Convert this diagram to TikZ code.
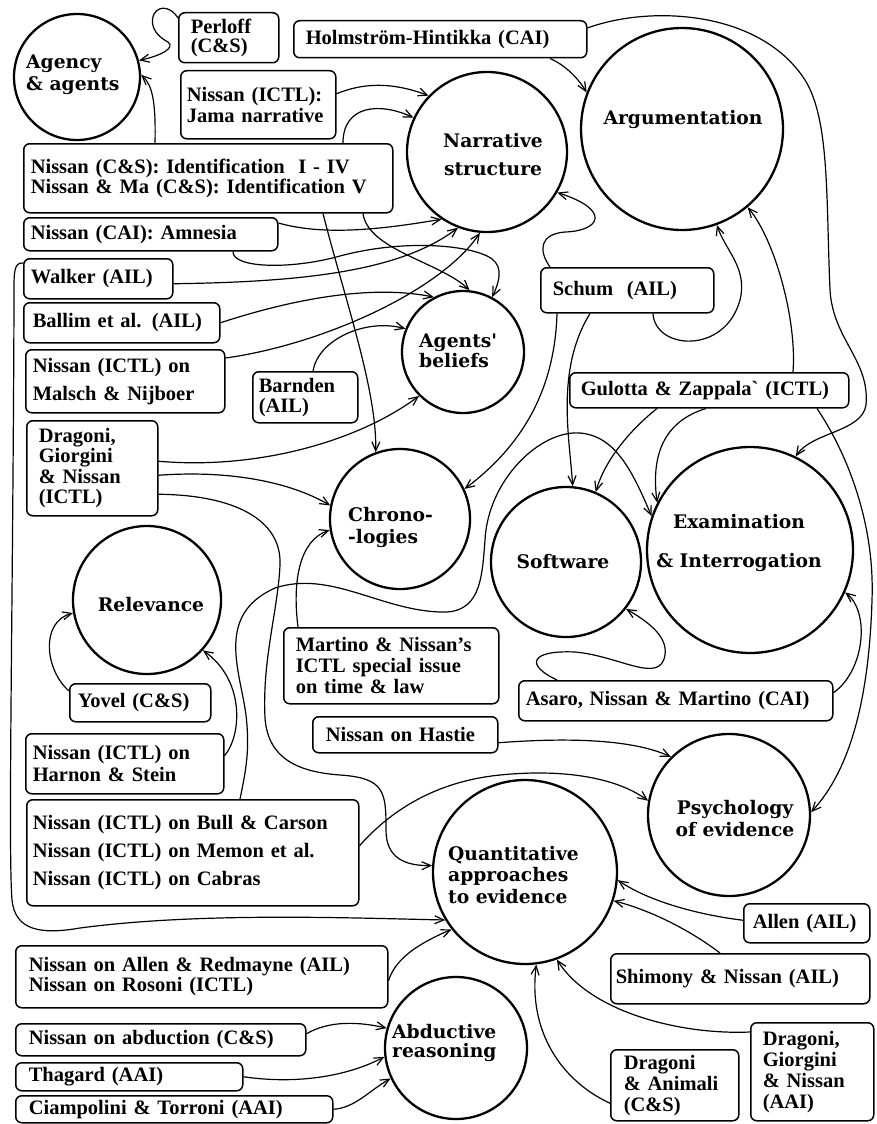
\documentclass[tikz,border=0pt]{standalone}
\usepackage{fontspec}
\newfontfamily\palfont{Liberation Serif}
\newfontfamily\cfont{DejaVu Serif}
\usetikzlibrary{shapes.geometric,arrows.meta,calc}
\tikzset{
  box/.style={draw, line width=1.5pt, rounded corners=6pt, anchor=north west, align=left, inner ysep=0pt, font=\palfont\bfseries\fontsize{20.5}{20}\selectfont},
  lsk/.style={font=\palfont\bfseries\fontsize{20.5}{#1}\selectfont},
  circ/.style={draw, circle, line width=2.3pt, inner sep=0pt},
  ctext/.style={inner sep=0pt, font=\cfont\bfseries\fontsize{18.7}{22}\selectfont},
  clsk/.style={font=\cfont\bfseries\fontsize{18.7}{#1}\selectfont},
  arr/.style={draw, line width=1.2pt, -{Straight Barb[length=9pt,width=8pt]}},
}
\begin{document}
\begin{tikzpicture}[x=1pt,y=-1pt]
\fill[white] (0,0) rectangle (877,1124);
\useasboundingbox (0,0) rectangle (877,1124);

% ---------- topic circles ----------
\node[circ, minimum size=126pt] (agency) at (77,77) {};
\node[ctext, clsk=22, anchor=west, align=left] (agency-t) at (26,75) {Agency\\\& agents};
\node[circ, minimum size=160pt] (narr) at (487,152) {};
\node[ctext, clsk=28, align=center] (narr-t) at (493,155) {Narrative\\structure};
\node[circ, minimum size=202pt] (argu) at (682,129) {};
\node[ctext] (argu-t) at (683,119) {Argumentation};
\node[circ, minimum size=122pt] (beliefs) at (463,352) {};
\node[ctext, clsk=20, anchor=west, align=left] (beliefs-t) at (419,351) {Agents'\\beliefs};
\node[circ, minimum size=140pt] (chrono) at (400,519) {};
\node[ctext, clsk=22, anchor=west, align=left] (chrono-t) at (348,527) {Chrono-\\-logies};
\node[circ, minimum size=150pt] (software) at (566,562) {};
\node[ctext] (software-t) at (563,562) {Software};
\node[circ, minimum size=206pt] (exam) at (750,550) {};
\node[ctext, clsk=39, align=center] (exam-t) at (739,543) {Examination\\\& Interrogation};
\node[circ, minimum size=148pt] (relev) at (147,600) {};
\node[ctext] (relev-t) at (151,605) {Relevance};
\node[circ, minimum size=162pt] (psych) at (729,815) {};
\node[ctext, clsk=22, align=center] (psych-t) at (735,819) {Psychology\\of evidence};
\node[circ, minimum size=184pt] (quant) at (525,872) {};
\node[ctext, clsk=21.5, anchor=west, align=left] (quant-t) at (448,875) {Quantitative\\approaches\\to evidence};
\node[circ, minimum size=142pt] (abd) at (456,1048) {};
\node[ctext, clsk=19, anchor=west, align=left] (abd-t) at (392,1043) {Abductive\\reasoning};

% ---------- source boxes ----------
\node[box, lsk=19, inner xsep=12pt, text width=76pt, minimum height=50pt] (perloff) at (178,12) {Perloff\\(C\&S)};
\node[box, inner xsep=12pt, text width=269pt, minimum height=37pt] (holm) at (293,20) {Holmström-Hintikka (CAI)};
\node[box, lsk=21, inner xsep=6pt, text width=143pt, minimum height=68pt] (jama) at (180,70) {Nissan (ICTL):\\Jama narrative};
\node[box, lsk=19.5, inner xsep=7pt, text width=355pt, minimum height=69pt] (idbox) at (23,143) {Nissan (C\&S): Identification\ \ I - IV\\Nissan \& Ma (C\&S): Identification V};
\node[box, inner xsep=7pt, text width=240pt, minimum height=33pt] (amnesia) at (23,217) {Nissan (CAI): Amnesia};
\node[box, inner xsep=7pt, text width=135pt, minimum height=40pt] (walker) at (23,258) {Walker (AIL)};
\node[box, inner xsep=9pt, text width=178pt, minimum height=40pt] (ballim) at (23,302) {Ballim et al. (AIL)};
\node[box, lsk=28, inner xsep=7pt, text width=185pt, minimum height=63pt] (malsch) at (25,349) {Nissan (ICTL) on\\Malsch \& Nijboer};
\node[box, lsk=20, inner xsep=6pt, text width=93pt, minimum height=51pt] (barnden) at (252,371) {Barnden\\(AIL)};
\node[box, lsk=20.5, inner xsep=12pt, text width=107pt, minimum height=95pt] (drag1) at (26,420) {Dragoni,\\Giorgini\\\& Nissan\\(ICTL)};
\node[box, inner xsep=12pt, text width=149pt, minimum height=45pt] (schum) at (540,267) {Schum\ \ (AIL)};
\node[box, inner xsep=11pt, text width=257pt, minimum height=35pt] (gulotta) at (569,372) {\mbox{Gulotta \& Zappala\textasciigrave\ (ICTL)}};
\node[box, lsk=21, inner xsep=12pt, text width=191pt, minimum height=76pt] (martino) at (283,627) {Martino \& Nissan’s\\ICTL special issue\\on time \& law};
\node[box, inner xsep=7pt, text width=300pt, minimum height=40pt] (asaro) at (518,680) {Asaro, Nissan \& Martino (CAI)};
\node[box, inner xsep=8pt, text width=125pt, minimum height=38pt] (yovel) at (69,683) {Yovel (C\&S)};
\node[box, inner xsep=13pt, text width=159pt, minimum height=36pt] (hastie) at (312,716) {Nissan on Hastie};
\node[box, lsk=22, inner xsep=7pt, text width=184pt, minimum height=60pt] (harnon) at (25,733) {Nissan (ICTL) on\\Harnon \& Stein};
\node[box, lsk=28, inner xsep=6pt, text width=320pt, minimum height=106pt] (bull) at (26,799) {Nissan (ICTL) on Bull \& Carson\\Nissan (ICTL) on Memon et al.\\Nissan (ICTL) on Cabras};
\node[box, lsk=20, inner xsep=13pt, text width=346pt, minimum height=62pt] (allenred) at (15,945) {Nissan on Allen \& Redmayne (AIL)\\Nissan on Rosoni (ICTL)};
\node[box, inner xsep=13pt, text width=264pt, minimum height=32pt] (abduc) at (15,1023) {Nissan on abduction (C\&S)};
\node[box, inner xsep=13pt, text width=201pt, minimum height=28pt] (thagard) at (15,1062) {Thagard (AAI)};
\node[box, inner xsep=13pt, text width=291pt, minimum height=27pt] (ciamp) at (15,1095) {Ciampolini \& Torroni (AAI)};
\node[box, inner xsep=9pt, text width=108pt, minimum height=39pt] (allen) at (743,903) {Allen (AIL)};
\node[box, inner xsep=5pt, text width=249pt, minimum height=50pt] (shimony) at (610,953) {Shimony \& Nissan (AIL)};
\node[box, lsk=21, inner xsep=13pt, text width=102pt, minimum height=71pt] (animali) at (610,1049) {Dragoni\\\& Animali\\(C\&S)};
\node[box, lsk=21, inner xsep=12pt, text width=99pt, minimum height=98pt] (drag2) at (750,1022) {Dragoni,\\Giorgini\\\& Nissan\\(AAI)};

% ---------- connectors ----------
\draw[arr] ($(perloff.north west)+(0,6)$) .. controls (172,8) and (160,4) .. (154,14) .. controls (148,28) and (160,38) .. (168,42) .. controls (176,48) and (160,56) .. (agency.15);
\draw[arr] ($(idbox.north west)+(132,0)$) .. controls (156,100) and (152,85) .. (agency.2);
\draw[arr] ($(jama.east)+(0,-11)$) .. controls (370,80) and (400,85) .. (narr.136);
\draw[arr] ($(idbox.north west)+(320,0)$) .. controls (343,105) and (380,102) .. (narr.155);
\draw[arr] ($(amnesia.north east)+(0,6)$) .. controls (330,238) and (400,226) .. (narr.236);
\draw[arr] ($(amnesia.south west)+(210,0)$) .. controls (232,268) and (290,270) .. (340,256) .. controls (400,240) and (462,244) .. (487,256) .. controls (502,263) and (502,276) .. (beliefs.62);
\draw[arr] ($(walker.east)+(0,5)$) .. controls (300,282) and (400,272) .. (narr.249);
\draw[arr] (ballim.east) .. controls (290,300) and (370,284) .. (beliefs.118);
\draw[arr] ($(malsch.north east)+(0,9)$) .. controls (320,345) and (440,292) .. (narr.265);
\draw[arr] ($(barnden.north west)+(61,0)$) .. controls (318,340) and (365,318) .. (beliefs.158);
\draw[arr] ($(drag1.east)+(0,-7)$) .. controls (260,470) and (360,440) .. (beliefs.225);
\draw[arr] ($(drag1.east)+(0,7)$) .. controls (230,470) and (290,482) .. (chrono.169);
\draw[arr] ($(drag1.east)+(0,26)$) .. controls (235,495) and (282,520) .. (280,565) .. controls (278,610) and (262,660) .. (265,718) .. controls (268,760) and (300,772) .. (340,775) .. controls (385,778) and (386,792) .. (386,830) .. controls (386,858) and (405,866) .. (quant.176);
\draw[arr] ($(idbox.south west)+(300,0)$) .. controls (345,300) and (377,390) .. (chrono.110);
\draw[arr] ($(idbox.south west)+(340,0)$) .. controls (368,250) and (440,262) .. (beliefs.84);
\draw[arr] ($(schum.south west)+(17,0)$) .. controls (555,380) and (530,440) .. (chrono.25);
\draw[arr] ($(schum.south west)+(50,0)$) .. controls (555,370) and (570,440) .. (software.85);
\draw[arr] ($(schum.north west)+(10,0)$) .. controls (538,250) and (540,234) .. (565,232) .. controls (600,231) and (612,210) .. (narr.330);
\draw[arr] ($(schum.south west)+(113,0)$) .. controls (655,350) and (725,355) .. (740,300) .. controls (748,268) and (725,250) .. (argu.290);
\draw[arr] ($(gulotta.north west)+(224,0)$) .. controls (797,320) and (775,240) .. (argu.310);
\draw[arr] ($(gulotta.south west)+(88,0)$) .. controls (630,430) and (605,460) .. (software.67);
\draw[arr] ($(gulotta.south west)+(137,0)$) .. controls (668,420) and (650,450) .. (exam.153);
\draw[arr] ($(gulotta.south west)+(248,0)$) .. controls (845,450) and (875,520) .. (872,600) .. controls (869,700) and (850,770) .. (psych.2);
\draw[arr] ($(holm.south west)+(257,0)$) .. controls (565,65) and (578,78) .. (argu.159);
\draw[arr] ($(holm.north east)+(0,8)$) .. controls (650,5) and (760,10) .. (805,80) .. controls (830,120) and (826,200) .. (830,290) .. controls (833,340) and (870,360) .. (866,405) .. controls (862,432) and (812,432) .. (exam.64);
\draw[arr] ($(asaro.east)+(0,-8)$) .. controls (865,670) and (870,612) .. (exam.336);
\draw[arr] ($(asaro.north west)+(39,0)$) .. controls (525,665) and (530,650) .. (575,652) .. controls (620,656) and (660,685) .. (665,655) .. controls (668,635) and (645,620) .. (software.322);
\draw[arr] ($(martino.north west)+(15,0)$) .. controls (292,580) and (300,540) .. (chrono.189);
\draw[arr] ($(bull.north west)+(214,0)$) .. controls (246,770) and (250,750) .. (246,715) .. controls (240,670) and (215,615) .. (275,588) .. controls (330,570) and (380,610) .. (440,612) .. controls (480,614) and (482,580) .. (485,540) .. controls (488,480) and (540,430) .. (580,433) .. controls (615,436) and (632,470) .. (exam.161);
\draw[arr] ($(bull.east)+(0,-7)$) .. controls (400,800) and (450,780) .. (500,775) .. controls (570,768) and (620,780) .. (psych.170);
\draw[arr] ($(hastie.east)+(0,8)$) .. controls (560,738) and (630,738) .. (psych.135);
\draw[arr] ($(harnon.east)+(0,-8)$) .. controls (242,735) and (245,680) .. (relev.318);
\draw[arr] ($(yovel.north west)+(0,8)$) .. controls (45,670) and (40,622) .. (relev.190);
\draw[arr] ($(walker.north west)+(0,5)$) .. controls (13,262) and (14,275) .. (14,300) .. controls (13,600) and (8,850) .. (12,900) .. controls (15,930) and (40,935) .. (80,928) .. controls (200,912) and (350,918) .. (quant.211);
\draw[arr] ($(allenred.east)+(0,4)$) .. controls (395,960) and (415,945) .. (quant.218);
\draw[arr] ($(abduc.east)+(0,-6)$) .. controls (330,1020) and (360,1022) .. (abd.164);
\draw[arr] (thagard.east) .. controls (300,1085) and (350,1075) .. (abd.187);
\draw[arr] (ciamp.east) .. controls (355,1108) and (370,1090) .. (abd.205);
\draw[arr] ($(allen.west)+(0,-3)$) .. controls (700,915) and (650,902) .. (quant.355);
\draw[arr] ($(shimony.north west)+(110,0)$) .. controls (690,930) and (650,910) .. (quant.342);
\draw[arr] ($(animali.west)+(0,18)$) .. controls (560,1080) and (528,1030) .. (quant.277);
\draw[arr] ($(drag2.north west)+(0,10)$) .. controls (680,1035) and (590,1012) .. (quant.290);
\end{tikzpicture}
\end{document}
